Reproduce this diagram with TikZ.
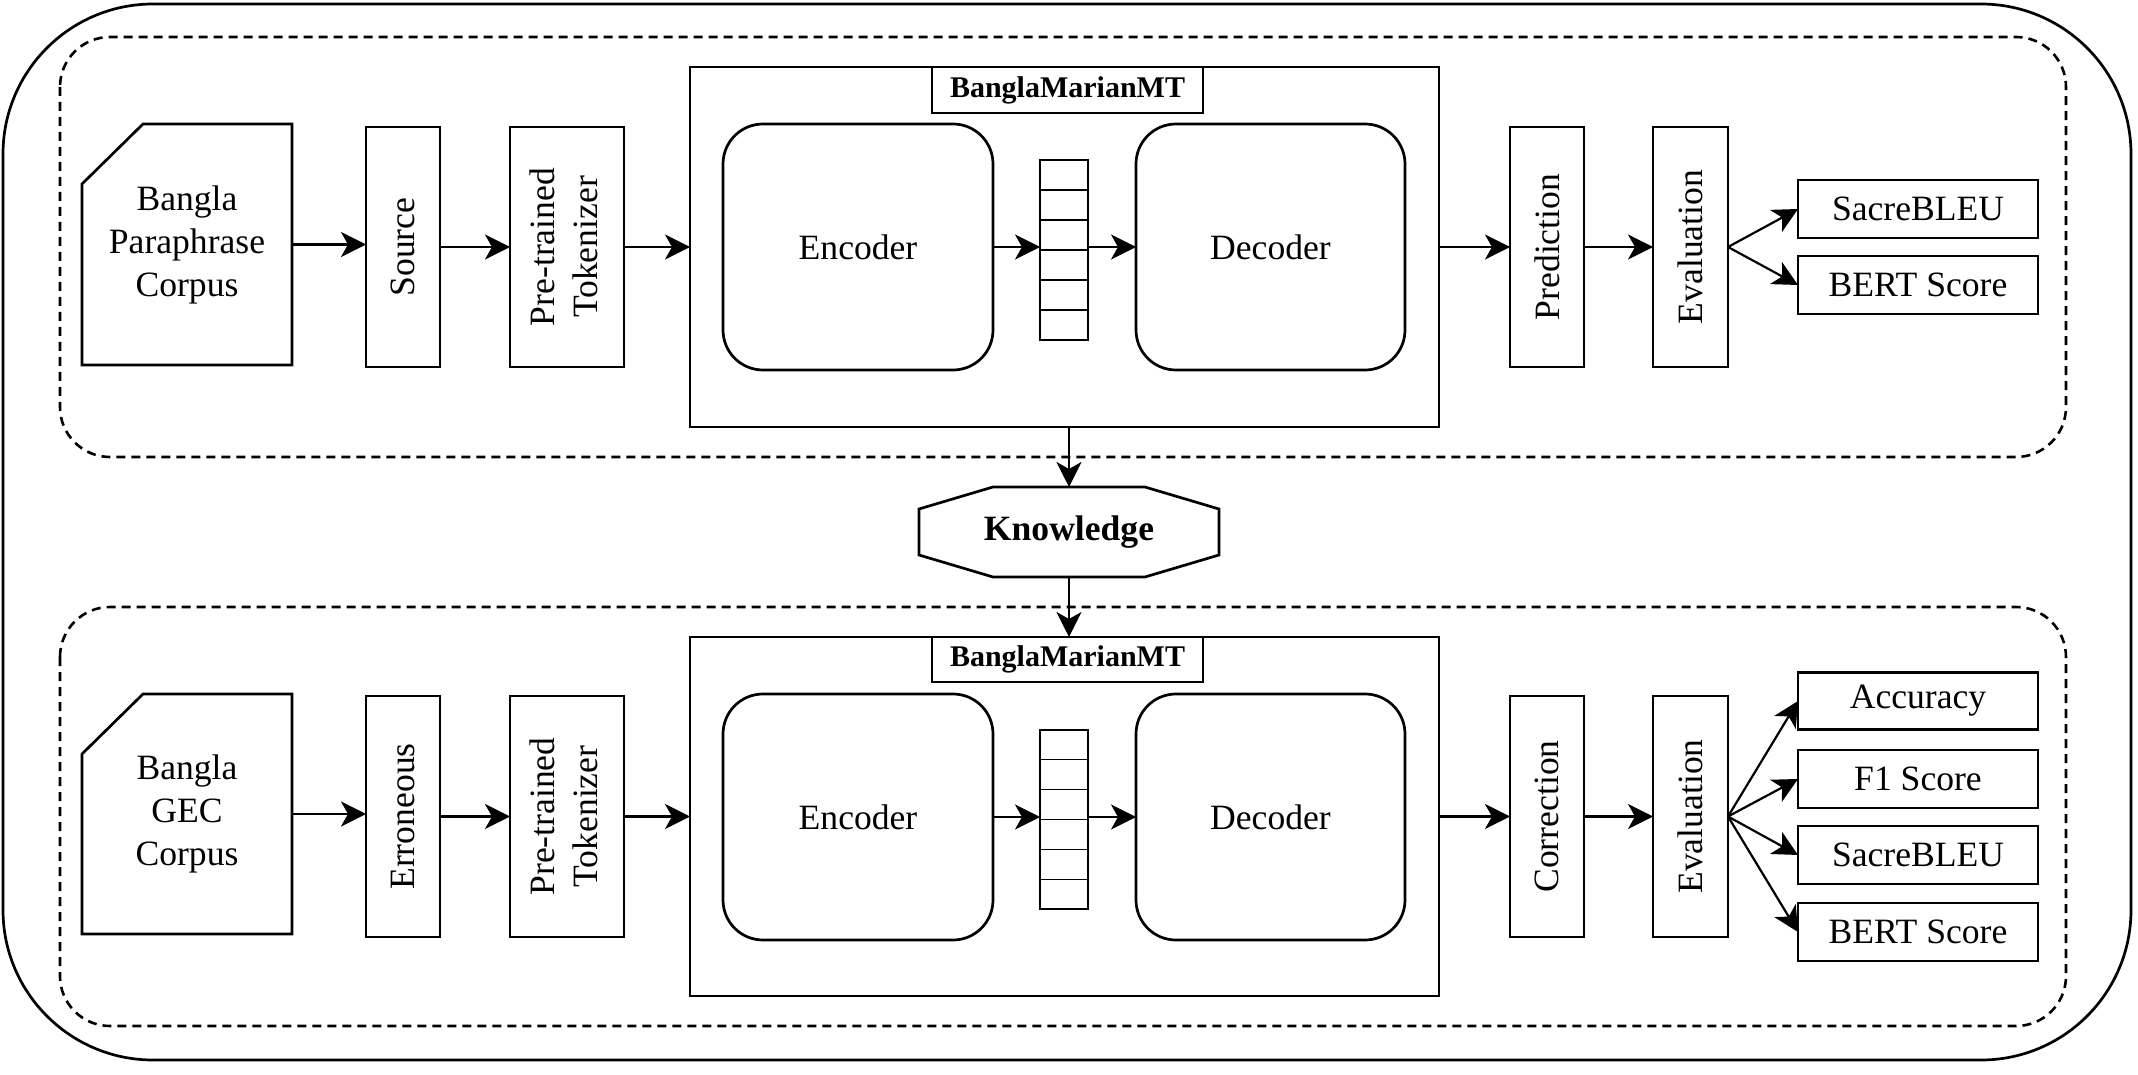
\documentclass[tikz,border=0pt]{standalone}
\usepackage{fontspec}
\setmainfont{Liberation Serif}
\usetikzlibrary{arrows.meta,calc}
\begin{document}
\begin{tikzpicture}[x=0.5pt,y=-0.5pt,
  every node/.style={font=\fontsize{17.8pt}{21.5pt}\selectfont, inner sep=0pt, outer sep=0pt},
  box/.style={draw, line width=1.35pt, rectangle},
  rbox/.style={box, rounded corners=20pt},
  cellbox/.style={draw, line width=0.65pt, rectangle},
  lblbox/.style={box, font=\bfseries\fontsize{15pt}{18pt}\selectfont},
  arr/.style={-{Stealth[length=12.5pt,width=12.5pt,inset=3.5pt]}, line width=1.1pt},
  dashbox/.style={dash pattern=on 4.5pt off 3pt, line width=1.3pt, rounded corners=25pt},
  outline/.style={line width=1.35pt},
]
\useasboundingbox (0,0) rectangle (2138,1075);
% outer frame and dashed groups
\draw[outline, rounded corners=75pt] (3,4) rectangle (2131,1060);
\draw[dashbox] (60,37) rectangle (2066,457);
\draw[dashbox] (60,607) rectangle (2066,1026);

% ---------- upper row ----------
\node[minimum width=105pt, minimum height=120.5pt, align=center] (corp1) at (187,244.5) {Bangla\\Paraphrase\\Corpus};
\draw[outline] ($(corp1.north west)+(61,0)$) -- (corp1.north east) -- (corp1.south east) -- (corp1.south west) -- ($(corp1.north west)+(0,60)$) -- cycle;
\node[box, minimum width=37pt, minimum height=120pt] (src1) at (403,247) {\rotatebox{90}{Source}};
\node[box, minimum width=57pt, minimum height=120pt] (tok1) at (567,247) {\rotatebox{90}{\begin{tabular}{@{}c@{}}Pre-trained\\Tokenizer\end{tabular}}};
\node[box, minimum width=374.5pt, minimum height=180pt] (big1) at (1064.5,247) {};
\node[lblbox, minimum width=135.5pt, minimum height=23pt] (lbl1) at (1067.5,90) {BanglaMarianMT};
\node[rbox, minimum width=135pt, minimum height=123pt] (enc1) at (858,247) {Encoder};
\node[cellbox, minimum width=24pt, minimum height=90pt] (vec1) at (1064,250) {};
\foreach \i in {1,...,5}
  \draw[line width=0.65pt] ($(vec1.north west)!\i/6!(vec1.south west)$) -- ($(vec1.north east)!\i/6!(vec1.south east)$);
\node[rbox, minimum width=134.5pt, minimum height=123pt] (dec1) at (1270.5,247) {Decoder};
\node[box, minimum width=37pt, minimum height=120pt] (pred) at (1547,247) {\rotatebox{90}{Prediction}};
\node[box, minimum width=37.5pt, minimum height=120pt] (eval1) at (1690.5,247) {\rotatebox{90}{Evaluation}};
\node[box, minimum width=120pt, minimum height=29pt] (sacre1) at (1918,209) {SacreBLEU};
\node[box, minimum width=120pt, minimum height=29pt] (bert1) at (1918,285) {BERT Score};

\draw[arr] (corp1.east) -- (corp1.east -| src1.west);
\draw[arr] (src1) -- (tok1);
\draw[arr] (tok1.east) -- (tok1.east -| big1.west);
\draw[arr] (enc1.east) -- (enc1.east -| vec1.west);
\draw[arr] (vec1.east |- dec1.west) -- (dec1.west);
\draw[arr] (big1.east) -- (big1.east -| pred.west);
\draw[arr] (pred) -- (eval1);
\draw[arr] (eval1.east) -- (sacre1.west);
\draw[arr] (eval1.east) -- (bert1.west);

% ---------- knowledge ----------
\node[minimum width=150pt, minimum height=45pt, font=\bfseries\fontsize{17.8pt}{21.5pt}\selectfont] (know) at (1069,532) {Knowledge};
\draw[outline] ($(know.north west)+(74,0)$) -- ($(know.north east)+(-74,0)$) -- ($(know.north east)+(0,22)$) -- ($(know.south east)+(0,-22)$) -- ($(know.south east)+(-74,0)$) -- ($(know.south west)+(74,0)$) -- ($(know.south west)+(0,-22)$) -- ($(know.north west)+(0,22)$) -- cycle;

% ---------- lower row ----------
\node[minimum width=105pt, minimum height=120pt, align=center] (corp2) at (187,814) {Bangla\\GEC\\Corpus};
\draw[outline] ($(corp2.north west)+(61,0)$) -- (corp2.north east) -- (corp2.south east) -- (corp2.south west) -- ($(corp2.north west)+(0,60)$) -- cycle;
\node[box, minimum width=37pt, minimum height=120.5pt] (err) at (403,816.5) {\rotatebox{90}{Erroneous}};
\node[box, minimum width=57pt, minimum height=120.5pt] (tok2) at (567,816.5) {\rotatebox{90}{\begin{tabular}{@{}c@{}}Pre-trained\\Tokenizer\end{tabular}}};
\node[box, minimum width=374.5pt, minimum height=179.5pt] (big2) at (1064.5,816.5) {};
\node[lblbox, minimum width=135.5pt, minimum height=22.5pt] (lbl2) at (1067.5,659.5) {BanglaMarianMT};
\node[rbox, minimum width=135pt, minimum height=123pt] (enc2) at (858,817) {Encoder};
\node[cellbox, minimum width=24pt, minimum height=89.5pt] (vec2) at (1064,819.5) {};
\foreach \i in {1,...,5}
  \draw[line width=0.65pt] ($(vec2.north west)!\i/6!(vec2.south west)$) -- ($(vec2.north east)!\i/6!(vec2.south east)$);
\node[rbox, minimum width=134.5pt, minimum height=123pt] (dec2) at (1270.5,817) {Decoder};
\node[box, minimum width=37pt, minimum height=120.5pt] (corr) at (1547,816.5) {\rotatebox{90}{Correction}};
\node[box, minimum width=37.5pt, minimum height=120.5pt] (eval2) at (1690.5,816.5) {\rotatebox{90}{Evaluation}};
\node[box, minimum width=120pt, minimum height=28.5pt] (acc) at (1918,701) {Accuracy};
\node[box, minimum width=120pt, minimum height=29pt] (f1) at (1918,779) {F1 Score};
\node[box, minimum width=120pt, minimum height=29pt] (sacre2) at (1918,855) {SacreBLEU};
\node[box, minimum width=120pt, minimum height=29pt] (bert2) at (1918,932) {BERT Score};

\draw[arr] (corp2.east) -- (corp2.east -| err.west);
\draw[arr] (err) -- (tok2);
\draw[arr] (tok2.east) -- (tok2.east -| big2.west);
\draw[arr] (enc2.east) -- (enc2.east -| vec2.west);
\draw[arr] (vec2.east |- dec2.west) -- (dec2.west);
\draw[arr] (big2.east) -- (big2.east -| corr.west);
\draw[arr] (corr) -- (eval2);
\draw[arr] (eval2.east) -- (acc.west);
\draw[arr] (eval2.east) -- (f1.west);
\draw[arr] (eval2.east) -- (sacre2.west);
\draw[arr] (eval2.east) -- (bert2.west);

% knowledge links
\draw[arr] (know.north |- big1.south) -- (know.north);
\draw[arr] (know.south) -- (know.south |- big2.north);
\end{tikzpicture}
\end{document}
